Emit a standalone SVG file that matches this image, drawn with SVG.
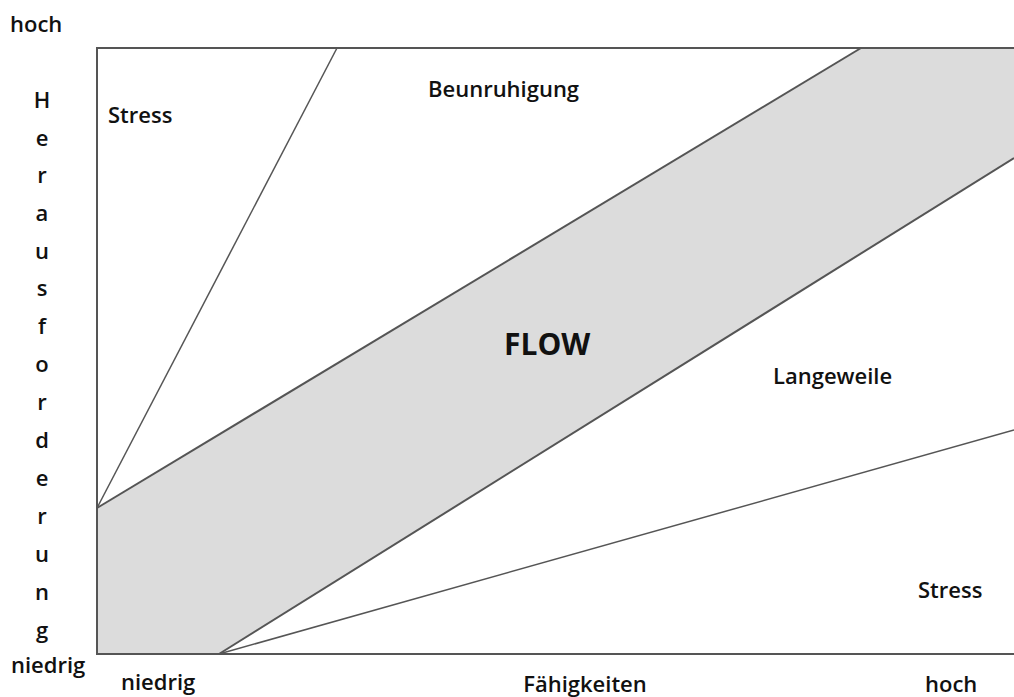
<svg xmlns="http://www.w3.org/2000/svg" width="1014" height="697" viewBox="0 0 1014 697">
<style>
text{font-family:"Open Sans","Noto Sans",sans-serif;font-weight:600;font-size:22px;fill:#111}
.v{text-anchor:middle}
.band{fill:#dcdcdc;stroke:none}
.edge{stroke:#555;stroke-width:2;fill:none}
.thin{stroke:#555;stroke-width:1.5;fill:none}
</style>
<rect x="0" y="0" width="1014" height="697" fill="#fff"/>
<g id="flow-band">
<polygon class="band" points="97,508 861,48 1014,48 1014,158 219,654 97,654"/>
</g>
<g id="frame">
<polyline class="edge" points="1014,48 97,48 97,654 1014,654" stroke="#666"/>
</g>
<g id="connectors">
<line class="edge" x1="97" y1="508" x2="861" y2="48"/>
<line class="edge" x1="219" y1="654" x2="1014" y2="158"/>
<line class="thin" x1="97" y1="508" x2="337" y2="48"/>
<line class="thin" x1="219" y1="654" x2="1014" y2="430"/>
</g>
<g id="labels">
<text x="10" y="32">hoch</text>
<text x="11" y="673">niedrig</text>
<text x="121" y="690">niedrig</text>
<text x="585" y="692" class="v">Fähigkeiten</text>
<text x="925" y="692">hoch</text>
<text x="108" y="123">Stress</text>
<text x="428" y="97">Beunruhigung</text>
<text x="504" y="355" style="font-size:30px;font-weight:700">FLOW</text>
<text x="773" y="384">Langeweile</text>
<text x="918" y="598">Stress</text>
</g>
<g id="y-axis-label" class="v">
<text x="42" y="108" class="v">H</text>
<text x="42" y="146" class="v">e</text>
<text x="42" y="183" class="v">r</text>
<text x="42" y="221" class="v">a</text>
<text x="42" y="259" class="v">u</text>
<text x="42" y="296" class="v">s</text>
<text x="42" y="334" class="v">f</text>
<text x="42" y="372" class="v">o</text>
<text x="42" y="410" class="v">r</text>
<text x="42" y="448" class="v">d</text>
<text x="42" y="486" class="v">e</text>
<text x="42" y="524" class="v">r</text>
<text x="42" y="562" class="v">u</text>
<text x="42" y="600" class="v">n</text>
<text x="42" y="638" class="v">g</text>
</g>
</svg>
